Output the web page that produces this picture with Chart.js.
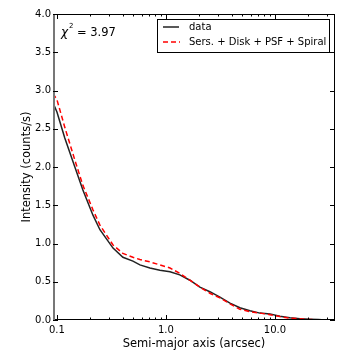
<!DOCTYPE html>
<html>
<head>
<meta charset="utf-8">
<script src="https://cdn.jsdelivr.net/npm/chart.js@4/dist/chart.umd.min.js"></script>
<style>
  html, body { margin: 0; padding: 0; background: #fff; }
  #wrap { width: 360px; height: 360px; }
</style>
</head>
<body>
<div id="wrap"><canvas id="myChart" width="360" height="360"></canvas></div>
<script>
// semi-major axis (arcsec)
const radius = [0.092, 0.10, 0.118, 0.146, 0.173, 0.214, 0.248, 0.288, 0.327, 0.403, 0.498, 0.577, 0.713, 0.881, 1.09, 1.34, 1.66, 2.05, 2.53, 3.13, 3.87, 4.77, 5.90, 7.28, 9.00, 11.1, 13.7, 17.0, 20.9, 25.0, 29.0];
// observed profile
const dataIntensity = [2.84, 2.72, 2.38, 2.00, 1.70, 1.37, 1.18, 1.05, 0.94, 0.82, 0.77, 0.72, 0.68, 0.65, 0.63, 0.59, 0.52, 0.43, 0.37, 0.30, 0.22, 0.16, 0.12, 0.09, 0.08, 0.05, 0.03, 0.015, 0.01, 0.005, 0.0];
// Sersic + disk + PSF + spiral model
const modelIntensity = [2.96, 2.88, 2.52, 2.09, 1.76, 1.44, 1.24, 1.10, 0.98, 0.87, 0.82, 0.79, 0.76, 0.72, 0.68, 0.61, 0.52, 0.43, 0.35, 0.29, 0.21, 0.14, 0.11, 0.09, 0.07, 0.045, 0.025, 0.015, 0.007, 0.003, 0.0];

const xMajor = [0.1, 1, 10];
const xMinor = [0.2, 0.3, 0.4, 0.5, 0.6, 0.7, 0.8, 0.9, 2, 3, 4, 5, 6, 7, 8, 9, 20, 30];
const yTicks = [0, 0.5, 1, 1.5, 2, 2.5, 3, 3.5, 4];
const legendLabels = ['data', 'Sers. + Disk + PSF + Spiral'];
const chiText = '3.97';

function pts(ys) {
  return radius.map(function (r, i) { return { x: r, y: ys[i] }; });
}

// matplotlib-like frame, inward ticks, legend box and chi^2 note
const frame = {
  id: 'frame',
  afterDraw: function (chart) {
    const ctx = chart.ctx;
    const a = chart.chartArea;
    const xs = chart.scales.x, ys = chart.scales.y;
    ctx.save();
    ctx.strokeStyle = '#000';
    ctx.lineWidth = 1;
    ctx.strokeRect(a.left + 0.5, a.top + 0.5, a.right - a.left - 1, a.bottom - a.top - 1);
    ctx.strokeStyle = '#777';
    ctx.lineWidth = 2;
    ctx.beginPath();
    ctx.moveTo(a.left + 1, a.top);
    ctx.lineTo(a.left + 1, a.bottom);
    ctx.stroke();

    ctx.strokeStyle = '#000';
    ctx.lineWidth = 1;
    ctx.beginPath();
    function xt(v, len) {
      const px = Math.round(xs.getPixelForValue(v)) + 0.5;
      ctx.moveTo(px, a.bottom); ctx.lineTo(px, a.bottom - len);
      ctx.moveTo(px, a.top); ctx.lineTo(px, a.top + len);
    }
    xMajor.forEach(function (v) { xt(v, 5); });
    xMinor.forEach(function (v) { xt(v, 2.5); });
    yTicks.forEach(function (v) {
      const py = Math.round(ys.getPixelForValue(v)) + 0.5;
      ctx.moveTo(a.left, py); ctx.lineTo(a.left + 5, py);
      ctx.moveTo(a.right, py); ctx.lineTo(a.right - 5, py);
    });
    ctx.stroke();

    // legend
    const bx = 157.5, by = 19.5, bw = 172, bh = 33;
    ctx.fillStyle = '#fff';
    ctx.fillRect(bx, by, bw, bh);
    ctx.strokeStyle = '#000';
    ctx.strokeRect(bx, by, bw, bh);
    ctx.lineWidth = 1.5;
    ctx.strokeStyle = '#222';
    ctx.beginPath(); ctx.moveTo(163, 27); ctx.lineTo(179, 27); ctx.stroke();
    ctx.strokeStyle = '#f00';
    ctx.setLineDash([5, 3]);
    ctx.beginPath(); ctx.moveTo(163, 42); ctx.lineTo(180, 42); ctx.stroke();
    ctx.setLineDash([]);
    ctx.fillStyle = '#000';
    ctx.font = '10px "DejaVu Sans"';
    ctx.textBaseline = 'middle';
    ctx.fillText(legendLabels[0], 189, 27);
    ctx.fillText(legendLabels[1], 189, 42);

    // chi^2
    ctx.textBaseline = 'alphabetic';
    ctx.font = 'italic 12px "DejaVu Sans"';
    ctx.fillText('\u03c7', 61, 36);
    ctx.font = '7px "DejaVu Sans"';
    ctx.fillText('2', 69, 28);
    ctx.font = '11.5px "DejaVu Sans"';
    ctx.fillText('= ' + chiText, 77, 36);
    ctx.restore();
  }
};

document.addEventListener("DOMContentLoaded", function () {
  const ctx = document.getElementById("myChart").getContext('2d');
  const myChart = new Chart(ctx, {
    type: 'line',
    data: {
      datasets: [{
        label: legendLabels[0],
        data: pts(dataIntensity),
        borderColor: '#222',
        borderWidth: 1.5,
        pointRadius: 0,
        fill: false,
        order: 1
      }, {
        label: legendLabels[1],
        data: pts(modelIntensity),
        borderColor: '#f00',
        borderWidth: 1.5,
        borderDash: [5, 3],
        pointRadius: 0,
        fill: false,
        order: 0
      }]
    },
    options: {
      responsive: false,
      animation: false,
      layout: { padding: { left: 0, right: 25, top: 14, bottom: 0 } },
      plugins: { legend: { display: false }, tooltip: { enabled: false } },
      scales: {
        x: {
          type: 'logarithmic',
          min: 0.092,
          max: 35.6,
          grid: { display: false, drawTicks: false, tickLength: 0 },
          border: { display: false },
          afterBuildTicks: function (s) { s.ticks = xMajor.map(function (v) { return { value: v }; }); },
          afterFit: function (s) { s.height = 40; },
          ticks: {
            padding: 4,
            maxRotation: 0,
            autoSkip: false,
            color: '#000',
            font: { family: 'DejaVu Sans', size: 10 },
            callback: function (v) { return Number(v).toFixed(1); }
          },
          title: {
            display: true,
            text: 'Semi-major axis (arcsec)',
            color: '#000',
            font: { family: 'DejaVu Sans', size: 11.5 },
            padding: { top: 0, bottom: 9 }
          }
        },
        y: {
          min: 0,
          max: 4,
          grid: { display: false, drawTicks: false, tickLength: 0 },
          border: { display: false },
          afterBuildTicks: function (s) { s.ticks = yTicks.map(function (v) { return { value: v }; }); },
          afterFit: function (s) { s.width = 53; },
          ticks: {
            padding: 2,
            color: '#000',
            font: { family: 'DejaVu Sans', size: 10 },
            callback: function (v) { return Number(v).toFixed(1); }
          },
          title: {
            display: true,
            text: 'Intensity (counts/s)',
            color: '#000',
            font: { family: 'DejaVu Sans', size: 11.5 },
            padding: { top: 20, bottom: 0 }
          }
        }
      }
    },
    plugins: [frame]
  });
});
</script>
</body>
</html>
